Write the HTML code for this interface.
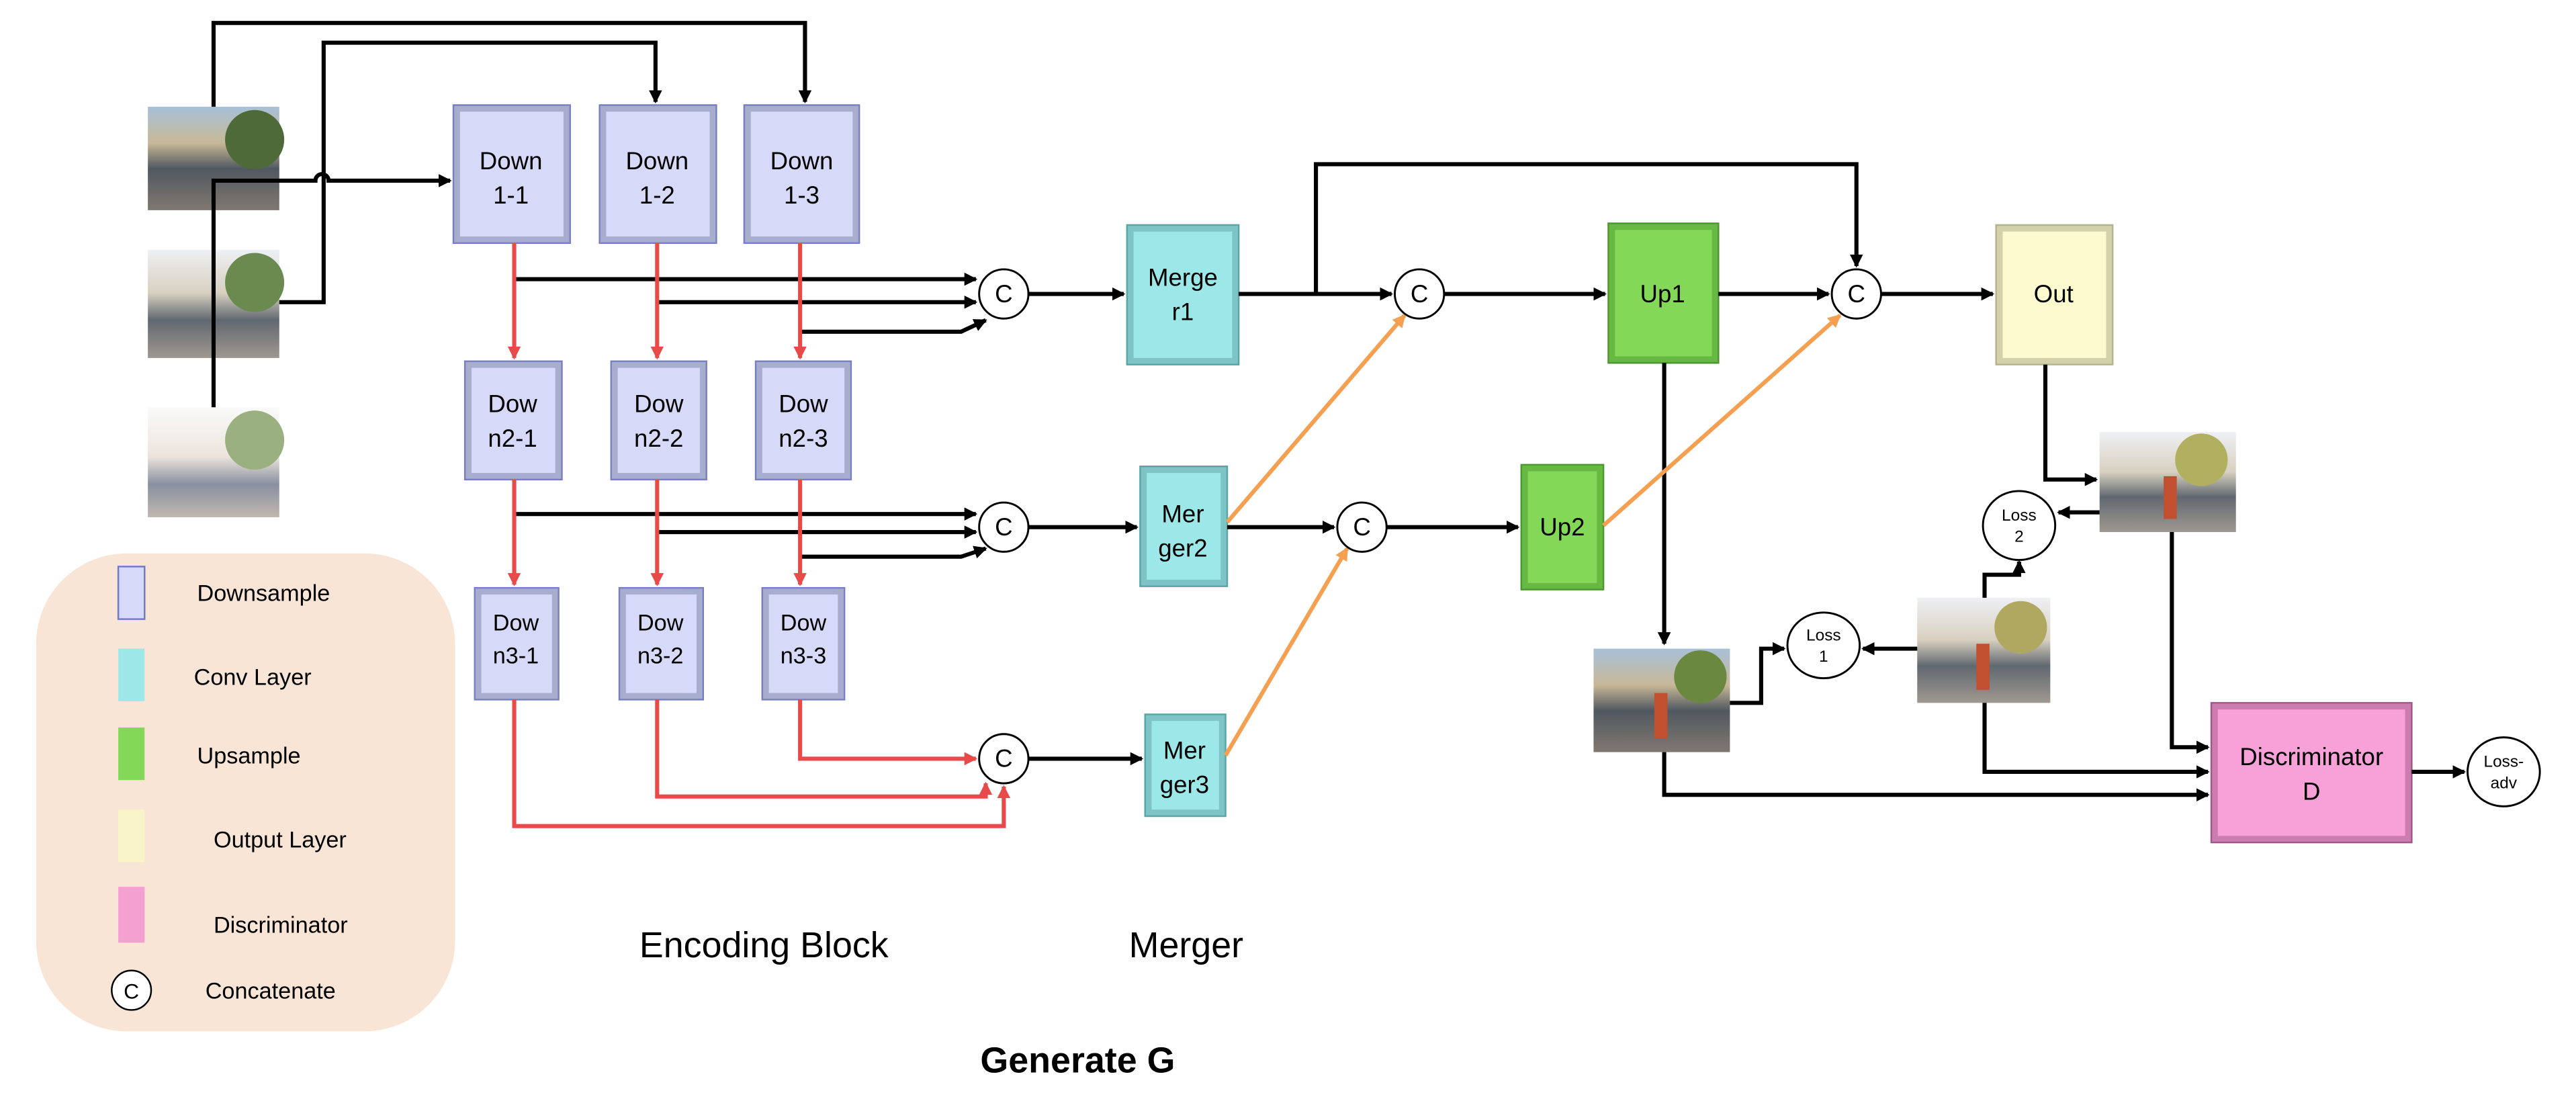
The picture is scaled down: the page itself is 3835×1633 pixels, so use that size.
<!DOCTYPE html>
<html><head><meta charset="utf-8"><style>
html,body{margin:0;padding:0;background:#fff;width:3835px;height:1633px;overflow:hidden}
svg{display:block}
text{font-family:"Liberation Sans",sans-serif}
</style></head><body>
<svg width="3835" height="1633" viewBox="0 0 1568 668" preserveAspectRatio="none" xmlns="http://www.w3.org/2000/svg">
<defs>
<marker id="ab" markerWidth="8" markerHeight="8" refX="7" refY="4" orient="auto" markerUnits="userSpaceOnUse"><path d="M0,0L8,4L0,8z" fill="#000"/></marker>
<marker id="ar" markerWidth="8" markerHeight="8" refX="7" refY="4" orient="auto" markerUnits="userSpaceOnUse"><path d="M0,0L8,4L0,8z" fill="#e84a4a"/></marker>
<marker id="ao" markerWidth="8" markerHeight="8" refX="7" refY="4" orient="auto" markerUnits="userSpaceOnUse"><path d="M0,0L8,4L0,8z" fill="#f5a050"/></marker>
<linearGradient id="ph" x1="0" y1="0" x2="0" y2="1">
<stop offset="0" stop-color="#a8c0d8"/><stop offset="0.35" stop-color="#c8b898"/><stop offset="0.6" stop-color="#505860"/><stop offset="1" stop-color="#807870"/></linearGradient>
<linearGradient id="ph2" x1="0" y1="0" x2="0" y2="1">
<stop offset="0" stop-color="#eef0f4"/><stop offset="0.4" stop-color="#d8d0c0"/><stop offset="0.65" stop-color="#606870"/><stop offset="1" stop-color="#a09890"/></linearGradient>
<linearGradient id="ph3" x1="0" y1="0" x2="0" y2="1">
<stop offset="0" stop-color="#fafafa"/><stop offset="0.45" stop-color="#ece4dc"/><stop offset="0.7" stop-color="#8890a0"/><stop offset="1" stop-color="#c0b8b0"/></linearGradient>
</defs>

<!-- photo generator -->
<g id="photos">
<rect x="90" y="65" width="80" height="63" fill="url(#ph)"/><circle cx="155" cy="85" r="18" fill="#4e6a38"/>
<rect x="90" y="152" width="80" height="66" fill="url(#ph2)"/><circle cx="155" cy="172" r="18" fill="#6a8a50"/>
<rect x="90" y="248" width="80" height="67" fill="url(#ph3)"/><circle cx="155" cy="268" r="18" fill="#9ab080"/>
<rect x="1278" y="263" width="83" height="61" fill="url(#ph2)"/><circle cx="1340" cy="280" r="16" fill="#b0b060"/><rect x="1317" y="290" width="8" height="26" fill="#c05030"/>
<rect x="1167" y="364" width="81" height="64" fill="url(#ph2)"/><circle cx="1230" cy="382" r="16" fill="#b0a860"/><rect x="1203" y="392" width="8" height="28" fill="#c05030"/>
<rect x="970" y="395" width="83" height="63" fill="url(#ph)"/><circle cx="1035" cy="412" r="16" fill="#6a8840"/><rect x="1007" y="422" width="8" height="28" fill="#c05030"/>
</g>

<!-- boxes -->
<g stroke="#7078c8" stroke-width="1" fill="#d6daf8">
<rect x="276" y="64" width="71" height="84"/><rect x="365" y="64" width="71" height="84"/><rect x="453" y="64" width="70" height="84"/>
<rect x="283" y="220" width="59" height="72"/><rect x="372" y="220" width="58" height="72"/><rect x="460" y="220" width="58" height="72"/>
<rect x="289" y="358" width="51" height="68"/><rect x="377" y="358" width="51" height="68"/><rect x="464" y="358" width="50" height="68"/>
<rect x="22" y="342" width="0" height="0"/>
</g>
<g fill="none" stroke="#8890b0" stroke-width="4" opacity="0.6">
<rect x="278" y="66" width="67" height="80"/><rect x="367" y="66" width="67" height="80"/><rect x="455" y="66" width="66" height="80"/>
<rect x="285" y="222" width="55" height="68"/><rect x="374" y="222" width="54" height="68"/><rect x="462" y="222" width="54" height="68"/>
<rect x="291" y="360" width="47" height="64"/><rect x="379" y="360" width="47" height="64"/><rect x="466" y="360" width="46" height="64"/>
</g>
<rect x="686" y="137" width="68" height="85" fill="#9ce8e8" stroke="#58a8a8"/><rect x="688" y="139" width="64" height="81" fill="none" stroke="#60a0a0" stroke-width="4" opacity="0.5"/>
<rect x="694" y="284" width="53" height="73" fill="#9ce8e8" stroke="#58a8a8"/><rect x="696" y="286" width="49" height="69" fill="none" stroke="#60a0a0" stroke-width="4" opacity="0.5"/>
<rect x="697" y="435" width="49" height="62" fill="#9ce8e8" stroke="#58a8a8"/><rect x="699" y="437" width="45" height="58" fill="none" stroke="#60a0a0" stroke-width="4" opacity="0.5"/>
<rect x="979" y="136" width="67" height="85" fill="#84d858" stroke="#4c9830"/><rect x="981" y="138" width="63" height="81" fill="none" stroke="#4c9830" stroke-width="4" opacity="0.5"/>
<rect x="926" y="283" width="50" height="76" fill="#84d858" stroke="#4c9830"/><rect x="928" y="285" width="46" height="72" fill="none" stroke="#4c9830" stroke-width="4" opacity="0.5"/>
<rect x="1215" y="137" width="71" height="85" fill="#fdfad0" stroke="#b8b890"/><rect x="1217" y="139" width="67" height="81" fill="none" stroke="#a8a888" stroke-width="4" opacity="0.5"/>
<rect x="1346" y="428" width="122" height="85" fill="#f8a0d8" stroke="#a05888"/><rect x="1348" y="430" width="118" height="81" fill="none" stroke="#a05888" stroke-width="4" opacity="0.5"/>

<g font-size="15" text-anchor="middle" fill="#000">
<text x="311" y="103">Down</text><text x="311" y="124">1-1</text>
<text x="400" y="103">Down</text><text x="400" y="124">1-2</text>
<text x="488" y="103">Down</text><text x="488" y="124">1-3</text>
<text x="312" y="251">Dow</text><text x="312" y="272">n2-1</text>
<text x="401" y="251">Dow</text><text x="401" y="272">n2-2</text>
<text x="489" y="251">Dow</text><text x="489" y="272">n2-3</text>
<text x="314" y="384" font-size="14">Dow</text><text x="314" y="404" font-size="14">n3-1</text>
<text x="402" y="384" font-size="14">Dow</text><text x="402" y="404" font-size="14">n3-2</text>
<text x="489" y="384" font-size="14">Dow</text><text x="489" y="404" font-size="14">n3-3</text>
<text x="720" y="174">Merge</text><text x="720" y="195">r1</text>
<text x="720" y="318">Mer</text><text x="720" y="339">ger2</text>
<text x="721" y="462">Mer</text><text x="721" y="483">ger3</text>
<text x="1012" y="184">Up1</text><text x="951" y="326">Up2</text>
<text x="1250" y="184">Out</text>
<text x="1407" y="466">Discriminator</text><text x="1407" y="487">D</text>
</g>

<!-- black connectors -->
<g stroke="#000" stroke-width="2.5" fill="none">
<path d="M130,65V14H490V62" marker-end="url(#ab)"/>
<path d="M170,184H197V26H399V62" marker-end="url(#ab)"/>
<path d="M130,248V110H192a4,4 0 0 1 8,0H274" marker-end="url(#ab)"/>
<path d="M313,170H594" marker-end="url(#ab)"/>
<path d="M400,184H594" marker-end="url(#ab)"/>
<path d="M487,202H585L600,195" marker-end="url(#ab)"/>
<path d="M313,313H594" marker-end="url(#ab)"/>
<path d="M400,324H594" marker-end="url(#ab)"/>
<path d="M487,339H585L600,334" marker-end="url(#ab)"/>
<path d="M626,179H684" marker-end="url(#ab)"/>
<path d="M626,321H692" marker-end="url(#ab)"/>
<path d="M626,462H695" marker-end="url(#ab)"/>
<path d="M754,179H847" marker-end="url(#ab)"/>
<path d="M801,179V100H1130V162" marker-end="url(#ab)"/>
<path d="M747,321H812" marker-end="url(#ab)"/>
<path d="M879,179H977" marker-end="url(#ab)"/>
<path d="M844,321H924" marker-end="url(#ab)"/>
<path d="M1046,179H1113" marker-end="url(#ab)"/>
<path d="M1145,179H1213" marker-end="url(#ab)"/>
<path d="M1013,221V392" marker-end="url(#ab)"/>
<path d="M1245,222V292H1276" marker-end="url(#ab)"/>
<path d="M1278,312H1253" marker-end="url(#ab)"/>
<path d="M1208,364V350H1229V342" marker-end="url(#ab)"/>
<path d="M1167,395H1134" marker-end="url(#ab)"/>
<path d="M1053,428H1072V395H1086" marker-end="url(#ab)"/>
<path d="M1322,324V455H1344" marker-end="url(#ab)"/>
<path d="M1208,428V470H1344" marker-end="url(#ab)"/>
<path d="M1013,458V484H1344" marker-end="url(#ab)"/>
<path d="M1468,470H1500" marker-end="url(#ab)"/>
</g>
<!-- red -->
<g stroke="#e84a4a" stroke-width="2.5" fill="none">
<path d="M313,148V218" marker-end="url(#ar)"/>
<path d="M400,148V218" marker-end="url(#ar)"/>
<path d="M487,148V218" marker-end="url(#ar)"/>
<path d="M313,292V356" marker-end="url(#ar)"/>
<path d="M400,292V356" marker-end="url(#ar)"/>
<path d="M487,292V356" marker-end="url(#ar)"/>
<path d="M313,426V503H611V479" marker-end="url(#ar)"/>
<path d="M400,426V485H600V477" marker-end="url(#ar)"/>
<path d="M487,426V462H594" marker-end="url(#ar)"/>
</g>
<!-- orange -->
<g stroke="#f5a050" stroke-width="2.5" fill="none">
<path d="M747,318L855,192" marker-end="url(#ao)"/>
<path d="M746,460L820,334" marker-end="url(#ao)"/>
<path d="M976,320L1120,192" marker-end="url(#ao)"/>
</g>

<!-- C circles -->
<g fill="#fff" stroke="#000" stroke-width="1.2">
<circle cx="611" cy="179" r="15"/><circle cx="611" cy="321" r="15"/><circle cx="611" cy="462" r="15"/>
<circle cx="864" cy="179" r="15"/><circle cx="829" cy="321" r="15"/><circle cx="1130" cy="179" r="15"/>
<ellipse cx="1229" cy="320" rx="22" ry="21"/><ellipse cx="1110" cy="393" rx="22" ry="20"/><ellipse cx="1524" cy="470" rx="22" ry="21"/>
</g>
<g font-size="15" text-anchor="middle">
<text x="611" y="184">C</text><text x="611" y="326">C</text><text x="611" y="467">C</text>
<text x="864" y="184">C</text><text x="829" y="326">C</text><text x="1130" y="184">C</text>
</g>
<g font-size="10" text-anchor="middle">
<text x="1229" y="317">Loss</text><text x="1229" y="330">2</text>
<text x="1110" y="390">Loss</text><text x="1110" y="403">1</text>
<text x="1524" y="467">Loss-</text><text x="1524" y="480">adv</text>
</g>

<!-- legend -->
<rect x="22" y="337" width="255" height="291" rx="55" fill="#f9e5d6"/>
<rect x="72" y="345" width="16" height="32" fill="#d6daf8" stroke="#7078c8"/>
<rect x="72" y="395" width="16" height="32" fill="#9ce8e8"/>
<rect x="72" y="443" width="16" height="32" fill="#84d858"/>
<rect x="72" y="493" width="16" height="32" fill="#f8f4c8"/>
<rect x="72" y="540" width="16" height="34" fill="#f4a0d0"/>
<circle cx="80" cy="603" r="12" fill="#fff" stroke="#000"/>
<text x="80" y="608" font-size="13" text-anchor="middle">C</text>
<g font-size="14">
<text x="120" y="366">Downsample</text>
<text x="118" y="417">Conv Layer</text>
<text x="120" y="465">Upsample</text>
<text x="130" y="516">Output Layer</text>
<text x="130" y="568">Discriminator</text>
<text x="125" y="608">Concatenate</text>
</g>
<g font-size="22" text-anchor="middle">
<text x="465" y="583">Encoding Block</text>
<text x="722" y="583">Merger</text>
</g>
<text x="656" y="653" font-size="22" font-weight="bold" text-anchor="middle">Generate G</text>
</svg>
</body></html>
